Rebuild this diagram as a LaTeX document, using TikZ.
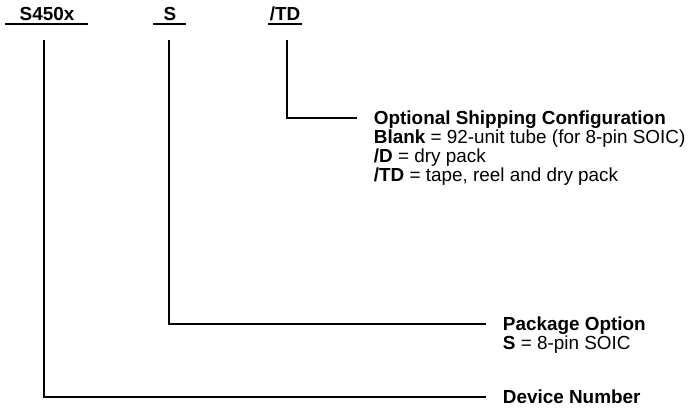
\documentclass[tikz,border=0pt]{standalone}
\usepackage{fontspec}
\setmainfont{Liberation Sans}
\begin{document}
\begin{tikzpicture}[x=1pt,y=-1pt, line width=1.8pt,
  every node/.style={inner sep=0pt, font=\fontsize{18.9}{19}\selectfont},
  code/.style={font=\fontsize{18.9}{19}\selectfont\bfseries, anchor=base},
  desc/.style={anchor=base west}]
\useasboundingbox (0,0) rectangle (690,408);
% top code fields
\node[code] (dev) at (47,20) {S450x};
\node[code] (pkg) at (170,20) {S};
\node[code] (ship) at (285,20) {/TD};
\coordinate (devL) at (5,24);  \coordinate (devR) at (88,24);
\coordinate (pkgL) at (153,24); \coordinate (pkgR) at (186,24);
\coordinate (shipL) at (268,24); \coordinate (shipR) at (302,24);
\draw (devL) -- (devR);
\draw (pkgL) -- (pkgR);
\draw (shipL) -- (shipR);
% leader lines
\coordinate (devtop) at (44,40);
\coordinate (pkgtop) at (169,40);
\coordinate (shiptop) at (287,40);
\coordinate (devend) at (486,397);
\coordinate (pkgend) at (486,324);
\coordinate (shipend) at (357,118);
\draw (devtop) |- (devend);
\draw (pkgtop) |- (pkgend);
\draw (shiptop) |- (shipend);
% descriptions
\node[desc] (ship1) at (373,124.8) {\textbf{Optional Shipping Configuration}};
\node[desc] (ship2) at (373,143.8) {\textbf{Blank} = 92-unit tube (for 8-pin SOIC)};
\node[desc] (ship3) at (373,162.8) {\textbf{/D} = dry pack};
\node[desc] (ship4) at (373,181.8) {\textbf{/TD} = tape, reel and dry pack};
\node[desc] (pkg1) at (502,330.8) {\textbf{Package Option}};
\node[desc] (pkg2) at (502,349.8) {\textbf{S} = 8-pin SOIC};
\node[desc] (dev1) at (502,403.8) {\textbf{Device Number}};
\end{tikzpicture}
\end{document}
